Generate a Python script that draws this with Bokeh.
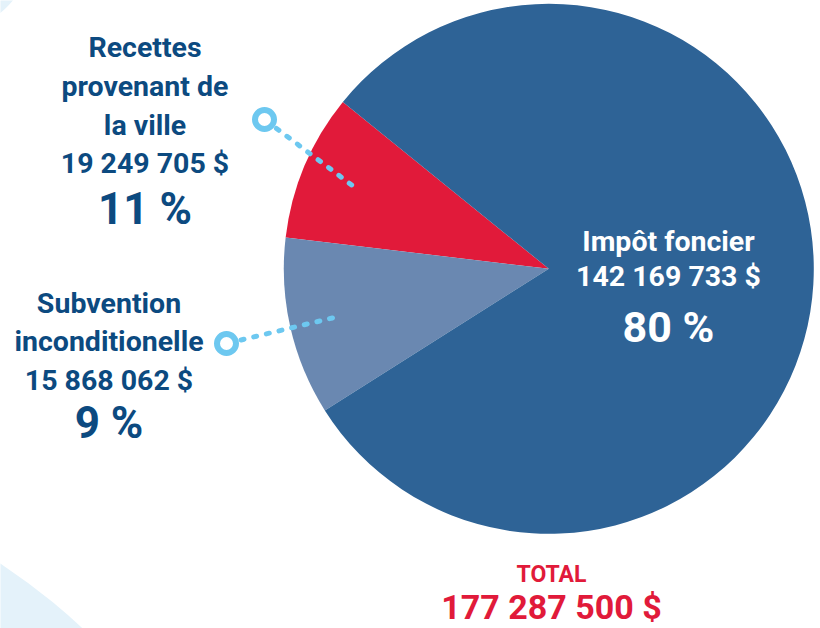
import math
from bokeh.plotting import figure
from bokeh.models import ColumnDataSource, Range1d
from bokeh.core.properties import value
from bokeh.embed import file_html
from bokeh.resources import INLINE

# ---------------- data ----------------
categories = ["Impôt foncier", "Recettes provenant de la ville", "Subvention inconditionelle"]
amounts = [142169733, 19249705, 15868062]
amount_labels = ["142 169 733 $", "19 249 705 $", "15 868 062 $"]
percent_labels = ["80 %", "11 %", "9 %"]
total_title = "TOTAL"
total_label = "177 287 500 $"

# slices counter-clockwise from the top-left edge of the red slice, sizes as drawn in the reference
slice_names = ["Recettes provenant de la ville", "Subvention inconditionelle", "Impôt foncier"]
slice_drawn_values = [15868062, 19249705, 142169733]
slice_colors = ["#E11A3A", "#6A88B1", "#2E6396"]

# ---------------- layout helpers ----------------
W, H = 820, 628
def px(x):  # screen x -> data x
    return x
def py(y):  # screen y -> data y
    return H - y

CX, CY, R = px(548.3), py(268.3), 265
START_DEG = 141.0

DARK_TEXT = "#0C4A80"
RED = "#E11A3A"
LEADER = "#6DC8F0"
FONT = value("Roboto")

p = figure(width=W, height=H, output_backend="svg", toolbar_location=None,
           x_range=Range1d(0, W), y_range=Range1d(0, H),
           x_axis_location=None, y_axis_location=None, min_border=0,
           outline_line_color=None, background_fill_color="white",
           border_fill_color="white")
p.grid.visible = False

# decorative light-blue discs (corners)
p.circle(x=[px(-346)], y=[py(1086)], radius=627, fill_color="#E4F2FA", line_color=None)
p.circle(x=[px(-60)], y=[py(-60)], radius=94, fill_color="#E4F2FA", line_color=None)

# ---------------- pie ----------------
total = sum(slice_drawn_values)
starts, ends, mids = [], [], []
acc = math.radians(START_DEG)
for v in slice_drawn_values:
    a = v / total * 2 * math.pi
    starts.append(acc)
    ends.append(acc + a)
    mids.append(acc + a / 2)
    acc += a
src = ColumnDataSource(dict(name=slice_names, value=slice_drawn_values,
                            start=starts, end=ends, color=slice_colors,
                            x=[CX] * 3, y=[CY] * 3))
p.wedge(x="x", y="y", radius=R, start_angle="start", end_angle="end",
        fill_color="color", line_color=None, source=src)

# ---------------- leader lines ----------------
ring_centers = {"Recettes provenant de la ville": (px(264), py(119)),
                "Subvention inconditionelle": (px(226), py(343))}
x0s, y0s, x1s, y1s, rx, ry = [], [], [], [], [], []
for name, mid in zip(slice_names, mids):
    if name not in ring_centers:
        continue
    ex, ey = CX + 0.8 * R * math.cos(mid), CY + 0.8 * R * math.sin(mid)
    cx, cy = ring_centers[name]
    d = math.hypot(ex - cx, ey - cy)
    ux, uy = (ex - cx) / d, (ey - cy) / d
    x0s.append(cx + ux * 15); y0s.append(cy + uy * 15)
    x1s.append(ex); y1s.append(ey)
    rx.append(cx); ry.append(cy)
p.segment(x0=x0s, y0=y0s, x1=x1s, y1=y1s, line_color=LEADER, line_width=5,
          line_dash="3 10", line_cap="round")
p.scatter(x=rx, y=ry, marker="circle", size=19, fill_color="white",
          line_color=LEADER, line_width=6)

# ---------------- labels ----------------
BASELINE_FIX = 0.36  # svg text sits lower than the requested baseline by ~0.36 em

def block(lines, cx, color):
    for (txt, sy_, size) in lines:
        p.text(x=[px(cx)], y=[py(sy_ - BASELINE_FIX * size)], text=[txt], text_align="center",
               text_baseline="alphabetic", text_font=FONT, text_font_style="bold",
               text_font_size=f"{size}px", text_color=color)

block([("Recettes", 57.3, 28.5), ("provenant de", 96.5, 28.5), ("la ville", 135, 28.5),
       (amount_labels[1], 173.3, 28.5), (percent_labels[1], 224, 44)], 144.5, DARK_TEXT)
block([("Subvention", 313.3, 28.5), ("inconditionelle", 351.7, 28.5),
       (amount_labels[2], 390.5, 28.5), (percent_labels[2], 438.3, 44)], 108.5, DARK_TEXT)
block([(categories[0], 251.7, 28.5), (amount_labels[0], 286, 28.5),
       (percent_labels[0], 341.7, 43)], 668, "white")
block([(total_title, 582, 23), (total_label, 618.5, 34)], 551, RED)

open("out.html", "w").write(file_html(p, INLINE))
